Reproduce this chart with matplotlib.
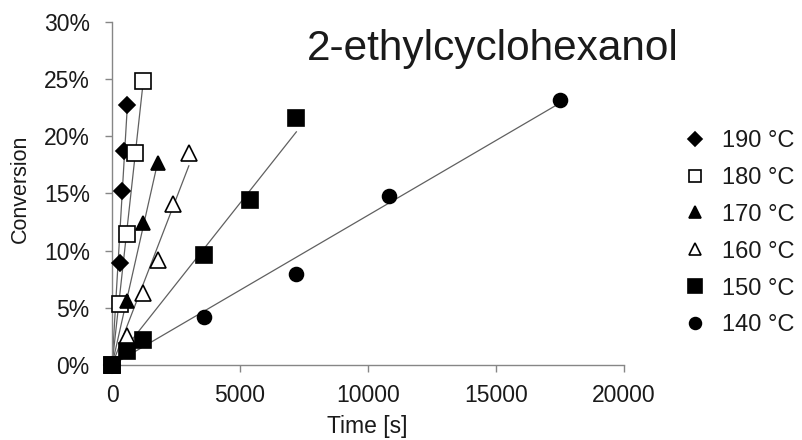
import numpy as np
import matplotlib
matplotlib.use("Agg")
import matplotlib.pyplot as plt
from matplotlib.ticker import FuncFormatter

plt.rcParams['font.family'] = ['Liberation Sans', 'DejaVu Sans']

# time [s] and conversion [%]
labels = ["190 °C", "180 °C", "170 °C", "160 °C", "150 °C", "140 °C"]
t_190 = [0, 300, 400, 450, 600]
c_190 = [0, 8.9, 15.2, 18.7, 22.7]
t_180 = [0, 300, 600, 900, 1200]
c_180 = [0, 5.3, 11.5, 18.5, 24.8]
t_170 = [0, 600, 1200, 1800]
c_170 = [0, 5.6, 12.4, 17.7]
t_160 = [0, 600, 1200, 1800, 2400, 3000]
c_160 = [0, 2.5, 6.3, 9.2, 14.1, 18.5]
t_150 = [0, 600, 1200, 3600, 5400, 7200]
c_150 = [0, 1.2, 2.2, 9.6, 14.4, 21.6]
t_140 = [0, 3600, 7200, 10800, 17500]
c_140 = [0, 4.2, 8.0, 14.8, 23.2]

times = [t_190, t_180, t_170, t_160, t_150, t_140]
convs = [c_190, c_180, c_170, c_160, c_150, c_140]
markers = ['D', 's', '^', '^', 's', 'o']
msizes = [8.5, 11, 10, 11, 11.5, 10]
filled = [True, False, True, False, True, True]
zorders = [3, 3, 3, 3, 5, 4]

fig = plt.figure(figsize=(8.02, 4.4), dpi=100)
ax = fig.add_axes([0.1397, 0.1705, 0.6384, 0.7795])

handles = []
for t, c, m, ms, f, z, lab in zip(times, convs, markers, msizes, filled,
                                  zorders, labels):
    t = np.array(t, dtype=float)
    c = np.array(c, dtype=float)
    # trendline through origin
    k = np.sum(t * c) / np.sum(t * t)
    ax.plot([0, t.max()], [0, k * t.max()], color='#606060', lw=0.9, zorder=1)
    h, = ax.plot(t, c, linestyle='none', marker=m, markersize=ms,
                 markerfacecolor='black' if f else 'white',
                 markeredgecolor='black', markeredgewidth=1.2, zorder=z,
                 label=lab, clip_on=False)
    handles.append(h)

ax.set_xlim(0, 20000)
ax.set_ylim(0, 30)
ax.set_xticks([0, 5000, 10000, 15000, 20000])
ax.set_yticks([0, 5, 10, 15, 20, 25, 30])
ax.yaxis.set_major_formatter(FuncFormatter(lambda v, p: f"{v:.0f}%"))
for s in ['top', 'right']:
    ax.spines[s].set_visible(False)
for s in ['left', 'bottom']:
    ax.spines[s].set_color('#868686')
    ax.spines[s].set_linewidth(1.0)
ax.tick_params(direction='out', length=5, width=1, color='#868686',
               labelsize=16.5, labelcolor='#1a1a1a')
ax.tick_params(axis='x', pad=9)
ax.tick_params(axis='y', pad=11)
ax.patch.set_alpha(0)

fig.text(20 / 802, 1 - 189 / 440, "Conversion", rotation=90, fontsize=15.5,
         color='#1a1a1a', ha='center', va='center')
fig.text(367.5 / 802, 1 - 433 / 440, "Time [s]", fontsize=16.5,
         color='#1a1a1a', ha='center', va='baseline')

fig.text(492.5 / 802, 1 - 60 / 440, "2-ethylcyclohexanol", fontsize=30.5,
         color='#1a1a1a', ha='center', va='baseline')

leg = fig.legend(handles=handles, loc='upper left',
                 bbox_to_anchor=(0.8437, 0.726), frameon=False, fontsize=17,
                 handlelength=0.76, handletextpad=0.76, labelspacing=0.63,
                 markerscale=0.85, borderaxespad=0)
for txt in leg.get_texts():
    txt.set_color('#1a1a1a')

fig.savefig("out.png", dpi=100)
